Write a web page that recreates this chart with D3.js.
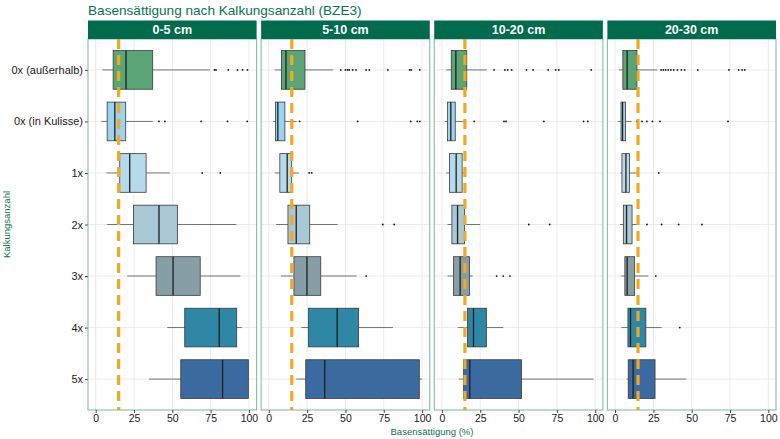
<!DOCTYPE html>
<html>
<head>
<meta charset="utf-8">
<script src="https://cdn.jsdelivr.net/npm/d3@7"></script>
<style>
  body { margin: 0; background: #fff; }
  svg { font-family: "Liberation Sans", Arial, sans-serif; }
</style>
</head>
<body>
<svg id="chart"></svg>
<script>
// Basensättigung boxplots, faceted by depth
const categories = ['0x (außerhalb)', '0x (in Kulisse)', '1x', '2x', '3x', '4x', '5x'];
const depths = ['0-5 cm', '5-10 cm', '10-20 cm', '20-30 cm'];
const xTicks = [0, 25, 50, 75, 100];
const threshold = 15;

// [lower whisker, q1, median, q3, upper whisker] per category
const stats05 = [
  [4.3, 11.4, 19.8, 37.2, 74.6],
  [3.7, 7.5, 12.5, 19.6, 37.2],
  [7.1, 15.7, 22.2, 32.9, 48.4],
  [7.5, 24.7, 41.3, 53.3, 91.8],
  [20.6, 39.4, 50.5, 68.2, 94.4],
  [46.7, 58.1, 80.6, 92.0, 95.5],
  [34.8, 55.5, 82.8, 99.6, 100]
];
const stats510 = [
  [3.9, 8.3, 11.2, 23.6, 42],
  [2.8, 4.4, 5.9, 10.5, 18.2],
  [3.9, 7.2, 12, 14.9, 19.7],
  [4.8, 12.5, 17.9, 26.7, 44.9],
  [7.9, 16.4, 24.9, 33.9, 57.3],
  [21.2, 25.8, 44.6, 58.6, 81],
  [17.9, 24.1, 36.5, 98.2, 100]
];
const stats1020 = [
  [2.8, 6.1, 9.1, 16.2, 29.2],
  [1.9, 3.7, 5.8, 8.7, 14.7],
  [2.8, 5, 9.3, 13.2, 14.5],
  [3.7, 6.5, 10.2, 14.7, 24.9],
  [3.7, 7.6, 11.9, 18, 20.1],
  [10.4, 16.7, 20.6, 29, 40],
  [11, 14.1, 18.2, 51.9, 98.9]
];
const stats2030 = [
  [2.6, 5.1, 7.9, 14.3, 27.6],
  [1.9, 3.9, 4.9, 6.9, 10.7],
  [3.4, 4.5, 7.1, 9.4, 14.8],
  [3.2, 5.4, 7.5, 11.1, 14.3],
  [4.1, 6.4, 7.9, 12.8, 21.8],
  [4.1, 8.4, 10.1, 20.1, 30.4],
  [7.5, 8.6, 11.8, 26.1, 46.5]
];

const outliers05 = [
  [77.5, 78.5, 86.5, 92.5, 95.8, 99],
  [41.3, 45.2, 68.8, 86, 98.9],
  [69.5, 81.3],
  [], [], [], []
];
const outliers510 = [
  [47, 50, 51.4, 52.5, 54.7, 56.9, 63.5, 65.6, 77.7, 91.9, 93, 98.5],
  [20.1, 58, 92.6, 96.9, 98.5],
  [26.3, 28],
  [74.4, 81.8],
  [63.5],
  [], []
];
const outliers1020 = [
  [34, 41.1, 42.9, 45.5, 55.2, 59.5, 69.3, 74.2, 76.2, 97.4],
  [21, 40.5, 41.8, 66.5, 92.4, 95.2],
  [],
  [56.7, 70.3],
  [35.7, 40, 44.4],
  [], []
];
const outliers2030 = [
  [30, 31.5, 33, 34.7, 36.4, 38.3, 40.7, 43.3, 45.4, 54, 74.3, 80.7, 82.9, 84.6],
  [14.3, 17.6, 20.8, 24.4, 29.3, 73.7],
  [28.5],
  [20.8, 30.4, 41.5, 56.7],
  [26.6],
  [42.2],
  []
];

const boxColors = ['#5aa476', '#9dd3ec', '#b5dbea', '#a8c8d6', '#879ea7', '#2e87a5', '#3b6aa0'];

const panelStats = [stats05, stats510, stats1020, stats2030];
const panelOutliers = [outliers05, outliers510, outliers1020, outliers2030];

const width = 780, height = 439;
const svg = d3.select('#chart').attr('width', width).attr('height', height);

const green = '#0b7354';
const panelLeft = 88, panelRight = 776, panelGap = 4.5;
const panelW = (panelRight - panelLeft - panelGap * 3) / 4;
const stripTop = 20.5, stripH = 18.5;
const plotTop = stripTop + stripH, plotBottom = 410;

const y = d3.scalePoint().domain(categories).range([plotTop, plotBottom]).padding(0.6);
const boxH = y.step() * 0.75;

// title
svg.append('text')
  .attr('x', panelLeft).attr('y', 15)
  .attr('fill', green).attr('font-size', 13.6)
  .text('Basensättigung nach Kalkungsanzahl (BZE3)');

// y axis title
svg.append('text')
  .attr('transform', `translate(10, ${(plotTop + plotBottom) / 2}) rotate(-90)`)
  .attr('text-anchor', 'middle').attr('fill', green).attr('font-size', 9.5)
  .text('Kalkungsanzahl');

// x axis title
svg.append('text')
  .attr('x', (panelLeft + panelRight) / 2).attr('y', 435)
  .attr('text-anchor', 'middle').attr('fill', green).attr('font-size', 9.5)
  .text('Basensättigung (%)');

// y axis labels
const yAxis = svg.append('g')
  .attr('transform', `translate(${panelLeft},0)`)
  .call(d3.axisLeft(y).tickSize(3).tickPadding(2));
yAxis.select('.domain').remove();
yAxis.selectAll('line').attr('stroke', '#444');
yAxis.selectAll('text').attr('fill', '#1a1a1a').attr('font-size', 11)
  .attr('font-family', '"Liberation Sans", Arial, sans-serif');

depths.forEach((depth, p) => {
  const x0 = panelLeft + p * (panelW + panelGap);
  const x = d3.scaleLinear().domain([-5, 105]).range([x0, x0 + panelW]);
  const g = svg.append('g');

  // grid
  g.selectAll('line.vgrid').data(xTicks).join('line')
    .attr('x1', d => x(d)).attr('x2', d => x(d))
    .attr('y1', plotTop).attr('y2', plotBottom)
    .attr('stroke', '#e6e6e6').attr('stroke-width', 0.8);
  g.selectAll('line.hgrid').data(categories).join('line')
    .attr('x1', x0).attr('x2', x0 + panelW)
    .attr('y1', d => y(d)).attr('y2', d => y(d))
    .attr('stroke', '#e6e6e6').attr('stroke-width', 0.8);

  const stats = panelStats[p];
  const outl = panelOutliers[p];

  categories.forEach((cat, i) => {
    const [lo, q1, med, q3, hi] = stats[i];
    const cy = y(cat);
    // whiskers
    g.append('line').attr('x1', x(lo)).attr('x2', x(q1)).attr('y1', cy).attr('y2', cy)
      .attr('stroke', '#555').attr('stroke-width', 0.8);
    g.append('line').attr('x1', x(q3)).attr('x2', x(hi)).attr('y1', cy).attr('y2', cy)
      .attr('stroke', '#555').attr('stroke-width', 0.8);
    // box
    g.append('rect')
      .attr('x', x(q1)).attr('y', cy - boxH / 2)
      .attr('width', x(q3) - x(q1)).attr('height', boxH)
      .attr('fill', boxColors[i]).attr('stroke', '#3a3a3a').attr('stroke-width', 0.8);
    g.append('line').attr('x1', x(med)).attr('x2', x(med))
      .attr('y1', cy - boxH / 2).attr('y2', cy + boxH / 2)
      .attr('stroke', '#1f1f1f').attr('stroke-width', 1.3);
    // outliers
    g.selectAll(null).data(outl[i]).join('circle')
      .attr('cx', d => x(d)).attr('cy', cy).attr('r', 0.9).attr('fill', '#111');
  });

  // threshold line
  g.append('line')
    .attr('x1', x(threshold)).attr('x2', x(threshold))
    .attr('y1', plotTop).attr('y2', plotBottom)
    .attr('stroke', '#f4a91c').attr('stroke-width', 3.2)
    .attr('stroke-dasharray', '10,6');

  // panel border
  g.append('rect')
    .attr('x', x0).attr('y', plotTop).attr('width', panelW).attr('height', plotBottom - plotTop)
    .attr('fill', 'none').attr('stroke', '#7db59f').attr('stroke-width', 1);

  // strip
  g.append('rect')
    .attr('x', x0).attr('y', stripTop).attr('width', panelW).attr('height', stripH)
    .attr('fill', '#006b4d');
  g.append('text')
    .attr('x', x0 + panelW / 2).attr('y', stripTop + stripH / 2 + 4.5)
    .attr('text-anchor', 'middle').attr('fill', '#fff')
    .attr('font-size', 12.5).attr('font-weight', 'bold')
    .text(depth);

  // x axis
  const xa = svg.append('g')
    .attr('transform', `translate(0,${plotBottom})`)
    .call(d3.axisBottom(x).tickValues(xTicks).tickSize(3).tickPadding(1.5));
  xa.select('.domain').remove();
  xa.selectAll('line').attr('stroke', '#444');
  xa.selectAll('text').attr('fill', '#1a1a1a').attr('font-size', 10.5)
    .attr('font-family', '"Liberation Sans", Arial, sans-serif');
});
</script>
</body>
</html>
